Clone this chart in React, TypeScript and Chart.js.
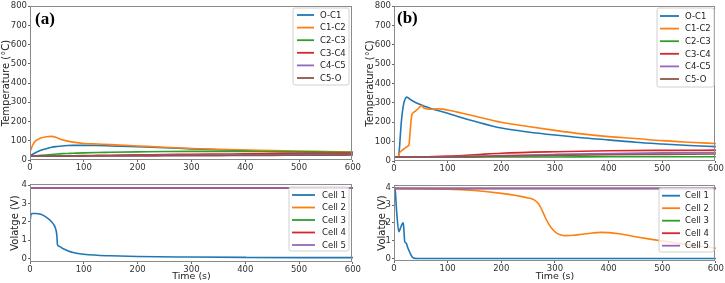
import React, { useEffect, useRef } from "react";
import { Chart, registerables } from "chart.js";

Chart.register(...registerables);

const BLUE = "#1f77b4";
const ORANGE = "#ff7f0e";
const GREEN = "#2ca02c";
const RED = "#d62728";
const PURPLE = "#9467bd";
const BROWN = "#8c564b";
const COLORS = [BLUE, ORANGE, GREEN, RED, PURPLE, BROWN];

const xTicks = [0, 100, 200, 300, 400, 500, 600];
const tempLabels = ["O-C1", "C1-C2", "C2-C3", "C3-C4", "C4-C5", "C5-O"];
const cellLabels = ["Cell 1", "Cell 2", "Cell 3", "Cell 4", "Cell 5"];

// ---------- (a) temperature ----------
const tA = [0, 5, 10, 20, 30, 40, 50, 60, 70, 80, 100, 125, 150, 200, 250, 300, 350, 400, 450, 500, 550, 600];
const aOC1 = [22, 30, 38, 51, 59, 66, 70, 73, 75, 76, 76, 75, 73, 69, 64, 58, 53, 49, 45, 42, 40, 38];
const aC1C2 = [43, 78, 98, 114, 121, 123, 116, 105, 98, 93, 86, 83, 80, 73, 66, 60, 56, 52, 49, 47, 44, 41];
const aC2C3 = [20, 21, 22, 24, 26, 28, 31, 33, 34, 35, 37, 39, 40, 42, 44, 45, 45, 45, 44, 43, 41, 40];
const aC3C4 = [20, 20, 20, 20, 20, 21, 21, 21, 22, 22, 23, 24, 25, 27, 28, 30, 31, 32, 33, 34, 34, 35];
const aC4C5 = [20, 20, 20, 20, 20, 20, 20, 20, 20, 21, 21, 21, 22, 23, 24, 25, 26, 27, 27, 28, 28, 29];
const aC5O = [20, 20, 20, 20, 20, 20, 20, 20, 20, 20, 20, 21, 21, 21, 22, 23, 23, 24, 24, 25, 25, 26];

// ---------- (a) voltage ----------
const tAv1 = [0, 2, 5, 10, 20, 30, 40, 45, 49, 50, 51, 55, 60, 70, 80, 100, 125, 150, 200, 300, 400, 500, 600];
const aCell1 = [2.0, 2.4, 2.45, 2.45, 2.4, 2.25, 2.0, 1.8, 1.45, 1.2, 0.75, 0.65, 0.55, 0.42, 0.32, 0.22, 0.17, 0.14, 0.1, 0.07, 0.05, 0.04, 0.04];
const tFlat = [0, 600];
const aCell2 = [3.83, 3.83];
const aCell3 = [3.83, 3.83];
const aCell4 = [3.83, 3.83];
const aCell5 = [3.84, 3.84];

// ---------- (b) temperature ----------
const tB1 = [0, 8, 10, 12, 14, 17, 20, 24, 30, 40, 50, 60, 70, 80, 100, 125, 150, 200, 250, 300, 350, 400, 450, 500, 550, 600];
const bOC1 = [20, 20, 60, 140, 212, 280, 315, 330, 318, 302, 290, 280, 270, 262, 247, 225, 205, 170, 150, 134, 120, 109, 97, 88, 80, 74];
const tB2 = [0, 8, 10, 15, 20, 25, 28, 30, 33, 36, 40, 45, 51, 55, 60, 70, 80, 90, 100, 125, 150, 200, 250, 300, 350, 400, 450, 500, 550, 600];
const bC1C2 = [20, 20, 40, 55, 65, 75, 85, 150, 235, 250, 258, 270, 286, 275, 270, 267, 270, 268, 263, 248, 232, 200, 178, 158, 140, 126, 116, 105, 97, 90];
const tB3 = [0, 50, 100, 150, 200, 300, 400, 500, 600];
const bC2C3 = [20, 20, 20, 20, 21, 21, 22, 22, 22];
const bC3C4 = [20, 21, 25, 32, 40, 48, 53, 55, 56];
const bC4C5 = [20, 20, 22, 24, 28, 34, 39, 42, 44];
const bC5O = [20, 20, 21, 23, 25, 29, 32, 34, 36];

// ---------- (b) voltage ----------
const tBv1 = [0, 2, 5, 9, 12, 17, 18, 20, 23, 25, 30, 34, 39, 50, 100, 600];
const bCell1 = [4.0, 3.9, 2.6, 1.5, 1.7, 2.0, 1.8, 0.95, 0.85, 0.65, 0.3, 0.08, 0.0, -0.01, -0.01, -0.01];
const tBv2 = [0, 100, 150, 200, 230, 250, 262, 270, 276, 282, 288, 295, 302, 310, 320, 335, 350, 370, 385, 400, 420, 450, 480, 510, 540, 570, 600];
const bCell2 = [3.93, 3.9, 3.82, 3.66, 3.52, 3.4, 3.28, 3.05, 2.7, 2.3, 1.95, 1.65, 1.45, 1.33, 1.28, 1.3, 1.36, 1.43, 1.46, 1.45, 1.38, 1.22, 1.07, 0.93, 0.8, 0.68, 0.57];
const bCell3 = [3.93, 3.93];
const bCell4 = [3.93, 3.93];
const bCell5 = [3.94, 3.94];

const FONT = '"DejaVu Sans", sans-serif';

function pts(t: number[], v: number[]) {
  return t.map((x, i) => ({ x, y: v[i] }));
}

const framePlugin = {
  id: "frame",
  afterDraw(chart: any, _args: any, opts: any) {
    const { ctx, chartArea: a } = chart;
    ctx.save();
    ctx.strokeStyle = "#8a8a8a";
    ctx.lineWidth = 1;
    const l = Math.floor(a.left) + 0.5;
    const t = Math.floor(a.top) + 0.5;
    const r = Math.floor(a.right) - 0.5;
    const b = Math.floor(a.bottom) - 0.5;
    ctx.strokeRect(l, t, r - l, b - t);

    if (opts.label) {
      ctx.font = 'bold 17px "Liberation Serif", serif';
      ctx.fillStyle = "#000";
      ctx.textBaseline = "alphabetic";
      ctx.textAlign = "left";
      ctx.fillText(opts.label, a.left + opts.labelDx, a.top + opts.labelDy);
    }

    const L = opts.legend;
    if (L) {
      ctx.beginPath();
      const rr = 2;
      const x = L.x, y = L.y, w = L.w, h = L.h;
      ctx.moveTo(x + rr, y);
      ctx.lineTo(x + w - rr, y);
      ctx.quadraticCurveTo(x + w, y, x + w, y + rr);
      ctx.lineTo(x + w, y + h - rr);
      ctx.quadraticCurveTo(x + w, y + h, x + w - rr, y + h);
      ctx.lineTo(x + rr, y + h);
      ctx.quadraticCurveTo(x, y + h, x, y + h - rr);
      ctx.lineTo(x, y + rr);
      ctx.quadraticCurveTo(x, y, x + rr, y);
      ctx.closePath();
      ctx.fillStyle = "rgba(255,255,255,0.8)";
      ctx.fill();
      ctx.strokeStyle = "#d0d0d0";
      ctx.lineWidth = 1;
      ctx.stroke();
      ctx.font = `8.5px ${FONT}`;
      ctx.textBaseline = "middle";
      ctx.textAlign = "left";
      chart.data.datasets.forEach((ds: any, i: number) => {
        const yy = L.rowY0 + i * L.rowH;
        ctx.strokeStyle = ds.borderColor;
        ctx.lineWidth = 1.8;
        ctx.beginPath();
        ctx.moveTo(L.lineX0, yy);
        ctx.lineTo(L.lineX1, yy);
        ctx.stroke();
        ctx.fillStyle = "#222";
        ctx.fillText(ds.label, L.textX, yy + 0.5);
      });
    }
    ctx.restore();
  },
};

type Spec = {
  left: number;
  top: number;
  width: number;
  height: number;
  padT: number;
  padR: number;
  yW: number;
  xH: number;
  yMin: number;
  yMax: number;
  yStep: number;
  yTitle: string;
  yTitlePad: number;
  xTitle?: string;
  label?: string;
  labelDx?: number;
  labelDy?: number;
  legend: any;
  datasets: { label: string; data: { x: number; y: number }[] }[];
};

function makeConfig(s: Spec): any {
  const tickFont = { family: FONT, size: 8.5 };
  return {
    type: "line",
    data: {
      datasets: s.datasets.map((d, i) => ({
        label: d.label,
        data: d.data,
        borderColor: COLORS[i],
        backgroundColor: COLORS[i],
        borderWidth: 1.6,
        pointRadius: 0,
        fill: false,
        cubicInterpolationMode: "monotone",
        order: s.datasets.length - i,
      })),
    },
    options: {
      animation: false,
      responsive: false,
      devicePixelRatio: 1,
      layout: { padding: { left: 0, right: s.padR, top: s.padT, bottom: 0 } },
      plugins: {
        legend: { display: false },
        tooltip: { enabled: false },
        frame: {
          label: s.label,
          labelDx: s.labelDx,
          labelDy: s.labelDy,
          legend: s.legend,
        },
      },
      scales: {
        x: {
          type: "linear",
          min: 0,
          max: 600,
          afterBuildTicks: (scale: any) => {
            scale.ticks = xTicks.map((v) => ({ value: v }));
          },
          ticks: { font: tickFont, color: "#333", padding: 1, maxRotation: 0, autoSkip: false },
          grid: { display: true, drawOnChartArea: false, drawTicks: true, tickLength: 2, color: "#666" },
          border: { display: false },
          title: s.xTitle
            ? { display: true, text: s.xTitle, font: { family: FONT, size: 9.5 }, color: "#222", padding: { top: 0, bottom: 0.5 } }
            : { display: false },
          afterFit: (scale: any) => {
            scale.height = s.xH;
          },
        },
        y: {
          type: "linear",
          min: s.yMin,
          max: s.yMax,
          ticks: { stepSize: s.yStep, includeBounds: false, font: tickFont, color: "#333", padding: 1 },
          grid: { display: true, drawOnChartArea: false, drawTicks: true, tickLength: 2, color: "#666" },
          border: { display: false },
          title: { display: true, text: s.yTitle, font: { family: FONT, size: 10 }, color: "#222", padding: { top: s.yTitlePad, bottom: 0 } },
          afterFit: (scale: any) => {
            scale.width = s.yW;
          },
        },
      },
    },
    plugins: [framePlugin],
  };
}

const specs: Spec[] = [
  {
    left: 0, top: 0, width: 362, height: 178, padT: 5, padR: 8, yW: 30, xH: 18,
    yMin: 0, yMax: 800, yStep: 100, yTitle: "Temperature (°C)", yTitlePad: 0,
    label: "(a)", labelDx: 5, labelDy: 18,
    legend: { x: 293, y: 8, w: 56, h: 77, rowY0: 15, rowH: 12.6, lineX0: 297, lineX1: 314, textX: 320 },
    datasets: [
      { label: tempLabels[0], data: pts(tA, aOC1) },
      { label: tempLabels[1], data: pts(tA, aC1C2) },
      { label: tempLabels[2], data: pts(tA, aC2C3) },
      { label: tempLabels[3], data: pts(tA, aC3C4) },
      { label: tempLabels[4], data: pts(tA, aC4C5) },
      { label: tempLabels[5], data: pts(tA, aC5O) },
    ],
  },
  {
    left: 362, top: 0, width: 363, height: 178, padT: 6, padR: 8, yW: 32, xH: 17,
    yMin: 0, yMax: 800, yStep: 100, yTitle: "Temperature (°C)", yTitlePad: 2,
    label: "(b)", labelDx: 3, labelDy: 17,
    legend: { x: 295, y: 8, w: 57, h: 79, rowY0: 16, rowH: 12.6, lineX0: 298, lineX1: 317, textX: 323 },
    datasets: [
      { label: tempLabels[0], data: pts(tB1, bOC1) },
      { label: tempLabels[1], data: pts(tB2, bC1C2) },
      { label: tempLabels[2], data: pts(tB3, bC2C3) },
      { label: tempLabels[3], data: pts(tB3, bC3C4) },
      { label: tempLabels[4], data: pts(tB3, bC4C5) },
      { label: tempLabels[5], data: pts(tB3, bC5O) },
    ],
  },
  {
    left: 0, top: 178, width: 362, height: 105, padT: 5, padR: 8, yW: 30, xH: 21,
    yMin: -0.2, yMax: 4.05, yStep: 1, yTitle: "Volatge (V)", yTitlePad: 9, xTitle: "Time (s)",
    legend: { x: 289, y: 9, w: 60, h: 64, rowY0: 17, rowH: 12.5, lineX0: 292, lineX1: 315, textX: 322 },
    datasets: [
      { label: cellLabels[0], data: pts(tAv1, aCell1) },
      { label: cellLabels[1], data: pts(tFlat, aCell2) },
      { label: cellLabels[2], data: pts(tFlat, aCell3) },
      { label: cellLabels[3], data: pts(tFlat, aCell4) },
      { label: cellLabels[4], data: pts(tFlat, aCell5) },
    ],
  },
  {
    left: 362, top: 178, width: 363, height: 105, padT: 7, padR: 8, yW: 32, xH: 22,
    yMin: -0.15, yMax: 4.13, yStep: 1, yTitle: "Volatge (V)", yTitlePad: 14, xTitle: "Time (s)",
    legend: { x: 297, y: 10, w: 55, h: 64, rowY0: 17.7, rowH: 12.5, lineX0: 300, lineX1: 318, textX: 323 },
    datasets: [
      { label: cellLabels[0], data: pts(tBv1, bCell1) },
      { label: cellLabels[1], data: pts(tBv2, bCell2) },
      { label: cellLabels[2], data: pts(tFlat, bCell3) },
      { label: cellLabels[3], data: pts(tFlat, bCell4) },
      { label: cellLabels[4], data: pts(tFlat, bCell5) },
    ],
  },
];

function Panel({ spec }: { spec: Spec }) {
  const ref = useRef<HTMLCanvasElement | null>(null);
  useEffect(() => {
    if (!ref.current) return;
    const chart = new Chart(ref.current, makeConfig(spec));
    return () => chart.destroy();
  }, [spec]);
  return (
    <canvas
      ref={ref}
      width={spec.width}
      height={spec.height}
      style={{
        position: "absolute",
        left: spec.left,
        top: spec.top,
        width: spec.width,
        height: spec.height,
        display: "block",
      }}
    />
  );
}

export default function App() {
  return (
    <div
      style={{
        position: "absolute",
        left: 0,
        top: 0,
        width: 725,
        height: 283,
        background: "#fff",
        overflow: "hidden",
      }}
    >
      {specs.map((s, i) => (
        <Panel key={i} spec={s} />
      ))}
    </div>
  );
}
